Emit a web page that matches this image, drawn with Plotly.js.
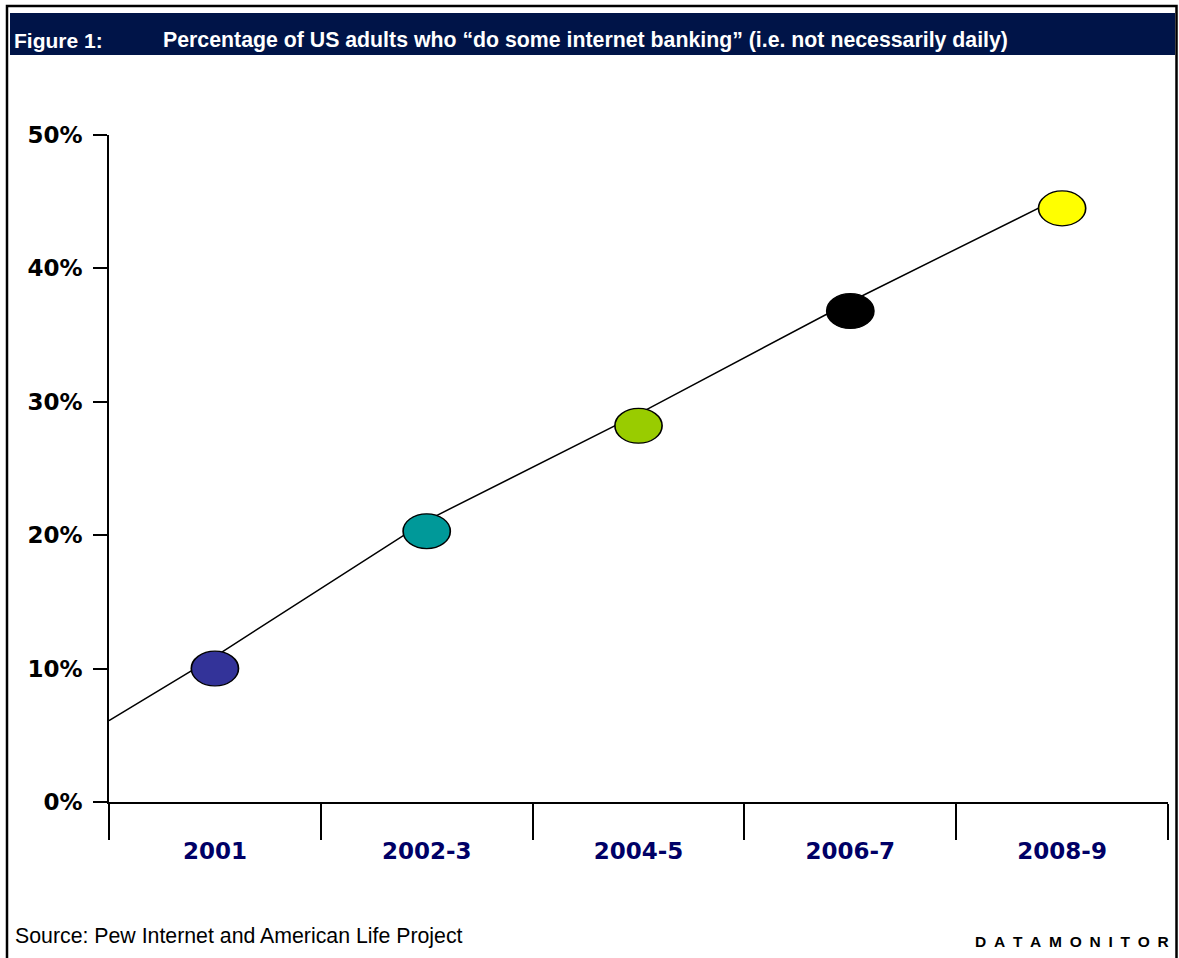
<!DOCTYPE html>
<html><head><meta charset="utf-8">
<script src="https://cdn.plot.ly/plotly-3.0.1.min.js"></script>
<style>html,body{margin:0;padding:0;background:#fff}#chart{width:1179px;height:958px}</style>
</head><body><div id="chart"></div>
<script>
// ---- data ----
const categories = ['2001', '2002-3', '2004-5', '2006-7', '2008-9'];
const sharePct = [10.0, 20.3, 28.2, 36.8, 44.5];
const markerColors = ['#333399', '#009999', '#99cc00', '#000000', '#ffff00'];
const trendX = [-0.5, 0, 1, 2, 3, 4];
const trendPct = [6.1, 10.9, 21.1, 29.1, 37.5, 45.4];
const yTickVals = [0, 10, 20, 30, 40, 50];
const yTickText = ['0%', '10%', '20%', '30%', '40%', '50%'];
const titleLabel = 'Figure 1:';
const titleText = 'Percentage of US adults who \u201cdo some internet banking\u201d (i.e. not necessarily daily)';
const sourceText = 'Source: Pew Internet and American Life Project';
const brandText = 'DATAMONITOR';

const catIndex = categories.map((c, i) => i);

const traces = [
  { // establishes the category axis labels
    x: categories, y: categories.map(() => null), xaxis: 'x', yaxis: 'y',
    type: 'scatter', mode: 'markers', hoverinfo: 'skip', showlegend: false
  },
  {
    x: trendX, y: trendPct, xaxis: 'x2', yaxis: 'y',
    type: 'scatter', mode: 'lines', line: { color: '#000', width: 1.5 },
    hoverinfo: 'skip', showlegend: false, cliponaxis: false
  },
  {
    x: catIndex, y: sharePct, xaxis: 'x2', yaxis: 'y',
    type: 'scatter', mode: 'markers', text: categories,
    marker: { size: 40, color: markerColors, line: { color: '#000', width: 1.4 } },
    hovertemplate: '%{text}: %{y}%<extra></extra>', showlegend: false, cliponaxis: false
  }
];

const axFont = { family: 'DejaVu Sans, Verdana, sans-serif', size: 23, weight: 'bold' };

const layout = {
  width: 1179, height: 958,
  margin: { l: 109, r: 11, t: 135, b: 156, pad: 0 },
  paper_bgcolor: '#fff', plot_bgcolor: '#fff',
  showlegend: false,
  title: {
    text: titleText, xref: 'container', yref: 'container',
    x: 163 / 1179, xanchor: 'left', y: 1 - 40 / 958, yanchor: 'middle',
    font: { family: 'Liberation Sans, Arial, sans-serif', size: 21.3, color: '#fff', weight: 'bold' }
  },
  xaxis: {
    type: 'category', range: [-0.5, 4.5], tickson: 'boundaries',
    ticks: 'outside', ticklen: 36, tickwidth: 1.5, tickcolor: '#000',
    showline: true, linecolor: '#000', linewidth: 1.5,
    showgrid: false, zeroline: false, fixedrange: true, ticklabelstandoff: 28,
    tickfont: Object.assign({ color: '#000066' }, axFont)
  },
  xaxis2: {
    overlaying: 'x', anchor: 'y', range: [-0.5, 4.5], visible: false, fixedrange: true
  },
  yaxis: {
    range: [0, 50], tickmode: 'array', tickvals: yTickVals, ticktext: yTickText,
    ticks: 'outside', ticklen: 14, tickwidth: 1.5, tickcolor: '#000',
    showline: true, linecolor: '#000', linewidth: 1.5,
    showgrid: false, zeroline: false, fixedrange: true, ticklabelstandoff: 6,
    tickfont: Object.assign({ color: '#000' }, axFont)
  },
  shapes: [
    { type: 'rect', xref: 'paper', yref: 'paper', layer: 'below',
      x0: (10 - 109) / 1059, x1: (1175 - 109) / 1059,
      y0: (802 - 55) / 667, y1: (802 - 13) / 667,
      fillcolor: '#001448', line: { width: 0 } },
    { type: 'rect', xref: 'paper', yref: 'paper', layer: 'above',
      x0: (7 - 109) / 1059, x1: (1176.5 - 109) / 1059,
      y0: (802 - 970) / 667, y1: (802 - 6) / 667,
      fillcolor: 'rgba(0,0,0,0)', line: { color: '#000', width: 2.5 } }
  ],
  annotations: [
    { text: titleLabel, xref: 'paper', yref: 'paper', showarrow: false,
      x: (12 - 109) / 1059, xanchor: 'left', y: (802 - 40) / 667, yanchor: 'middle',
      font: { family: 'Liberation Sans, Arial, sans-serif', size: 21, color: '#fff', weight: 'bold' } },
    { text: sourceText, xref: 'paper', yref: 'paper', showarrow: false,
      x: (13 - 109) / 1059, xanchor: 'left', y: (802 - 936) / 667, yanchor: 'middle',
      font: { family: 'Liberation Sans, Arial, sans-serif', size: 21.3, color: '#000' } },
    { text: brandText.split('').join('\u2002'), xref: 'paper', yref: 'paper', showarrow: false,
      x: (1171 - 109) / 1059, xanchor: 'right', y: (802 - 941) / 667, yanchor: 'middle',
      font: { family: 'Liberation Sans, Arial, sans-serif', size: 15.5, color: '#000', weight: 'bold' } }
  ]
};

Plotly.newPlot('chart', traces, layout, { displayModeBar: false, responsive: false }).then(gd => {
  // reference markers are slightly flattened ellipses
  gd.querySelectorAll('.scatterlayer path.point').forEach(p => {
    const t = p.getAttribute('transform') || '';
    p.setAttribute('transform', t + ' scale(1.18,0.87)');
  });
});
</script>
</body></html>
